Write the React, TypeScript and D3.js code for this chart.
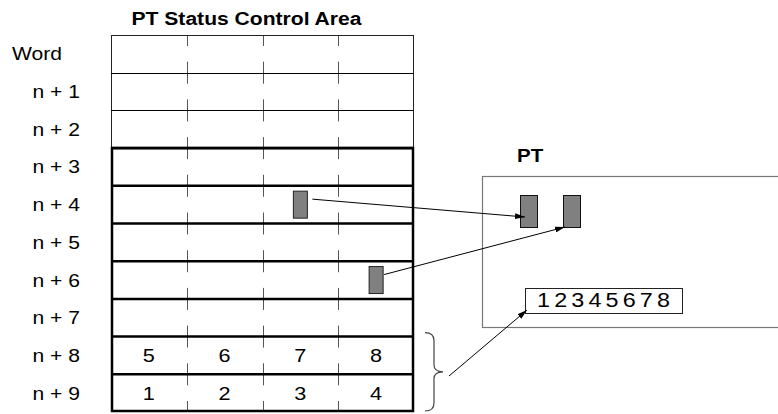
import React from "react";
import * as d3 from "d3";

const rowLabels = ["Word", "n + 1", "n + 2", "n + 3", "n + 4", "n + 5", "n + 6", "n + 7", "n + 8", "n + 9"];
const columns = [0, 1, 2, 3];
const cellNumbers = [
  { row: 8, values: [5, 6, 7, 8] },
  { row: 9, values: [1, 2, 3, 4] },
];
const tableBits = [
  { row: 4, col: 2 },
  { row: 6, col: 3 },
];
const ptDisplayText = "12345678";
const titleText = "PT Status Control Area";
const ptTitle = "PT";

const W = 778;
const H = 414;
const FONT = "'Liberation Sans', Arial, Helvetica, sans-serif";
const SX = 1.14;

const x = d3.scaleBand<number>().domain(columns).range([111, 414]);
const y = d3.scaleBand<number>().domain(d3.range(rowLabels.length)).range([35, 412]);

function T({ x: tx, y: ty, anchor = "start", size = 18.5, bold = false, children, ...rest }: any) {
  return (
    <text
      transform={`translate(${tx},${ty}) scale(${SX},1)`}
      textAnchor={anchor}
      fontSize={size}
      fontWeight={bold ? "bold" : "normal"}
      fontFamily={FONT}
      fill="#000"
      {...rest}
    >
      {children}
    </text>
  );
}

export default function App() {
  const left = x.range()[0];
  const right = x.range()[1];
  const top = y.range()[0];
  const bottom = y.range()[1];
  const bw = x.bandwidth();
  const bh = y.bandwidth();
  const thinBottom = y(3)!;

  const pt = { x: 482, y: 176, w: 400, h: 151 };
  const lampW = 17, lampH = 32;
  const lamps = [
    { x: 520, y: 195 },
    { x: 563, y: 195 },
  ];
  const disp = { x: 525, y: 288, w: 157, h: 25 };

  const bitW = 14, bitH = 27;
  const bitRects = tableBits.map((b) => ({
    x: x(b.col)! + bw / 2 - bitW / 2,
    y: y(b.row)! + bh / 2 - bitH / 2,
  }));

  const arrows = [
    { x1: bitRects[0].x + bitW + 5, y1: bitRects[0].y + 8, x2: lamps[0].x + 5, y2: lamps[0].y + 22 },
    { x1: bitRects[1].x + bitW + 1, y1: bitRects[1].y + 8, x2: lamps[1].x + 2, y2: lamps[1].y + lampH },
    { x1: 449, y1: 376, x2: disp.x + 2, y2: disp.y + 22 },
  ];

  const bx = 434;
  const by0 = y(8)! - 4;
  const by1 = bottom - 1;
  const bmid = (by0 + by1) / 2;
  const brace = `M${bx - 9},${by0} Q${bx},${by0} ${bx},${by0 + 8} L${bx},${bmid - 7} Q${bx},${bmid} ${bx + 9},${bmid} Q${bx},${bmid} ${bx},${bmid + 7} L${bx},${by1 - 8} Q${bx},${by1} ${bx - 9},${by1}`;

  return (
    <svg
      width={W}
      height={H}
      viewBox={`0 0 ${W} ${H}`}
      style={{ position: "absolute", left: 0, top: 0, background: "#fff" }}
    >
      <defs>
        <marker id="ah" viewBox="0 0 10 6" refX="10" refY="3" markerWidth="10" markerHeight="6" markerUnits="userSpaceOnUse" orient="auto">
          <path d="M0,0 L10,3 L0,6 Z" fill="#000" />
        </marker>
      </defs>
      <rect x={0} y={0} width={W} height={H} fill="#fff" />

      <T x={246.5} y={25} anchor="middle" size={18.5} bold>
        {titleText}
      </T>

      {columns.slice(1).map((c) => (
        <line
          key={c}
          x1={Math.round(x(c)!) + 0.5}
          x2={Math.round(x(c)!) + 0.5}
          y1={top}
          y2={bottom}
          stroke="#555"
          strokeWidth={1}
          strokeDasharray="22 15.7"
          strokeDashoffset={11}
        />
      ))}

      <rect x={left + 0.5} y={top + 0.5} width={right - left - 1} height={thinBottom - top} fill="none" stroke="#222" strokeWidth={1} />
      {[1, 2].map((r) => (
        <line key={r} x1={left} x2={right} y1={Math.round(y(r)!) + 0.5} y2={Math.round(y(r)!) + 0.5} stroke="#000" strokeWidth={1} />
      ))}

      {d3.range(3, rowLabels.length).map((r) => (
        <line key={r} x1={left} x2={right} y1={y(r)!} y2={y(r)!} stroke="#000" strokeWidth={2.5} />
      ))}
      <rect x={left + 1} y={thinBottom} width={right - left - 2} height={bottom - thinBottom - 1} fill="none" stroke="#000" strokeWidth={2.5} />

      {rowLabels.map((lab, i) =>
        i === 0 ? (
          <T key={i} x={12} y={y(i)! + bh / 2 + 6.5}>
            {lab}
          </T>
        ) : (
          <T key={i} x={80} y={y(i)! + bh / 2 + 6.5} anchor="end">
            {lab}
          </T>
        )
      )}

      {cellNumbers.map((row) =>
        row.values.map((v, ci) => (
          <T key={`${row.row}-${ci}`} x={x(ci)! + bw / 2} y={y(row.row)! + bh / 2 + 7} anchor="middle" size={19}>
            {v}
          </T>
        ))
      )}

      {bitRects.map((r, i) => (
        <rect key={i} x={r.x} y={r.y} width={bitW} height={bitH} fill="#808080" stroke="#222" strokeWidth={1} />
      ))}

      <T x={517} y={162} size={18} bold>
        {ptTitle}
      </T>
      <rect x={pt.x + 0.5} y={pt.y + 0.5} width={pt.w} height={pt.h} fill="none" stroke="#777" strokeWidth={1.2} />
      {lamps.map((l, i) => (
        <rect key={i} x={l.x + 0.5} y={l.y + 0.5} width={lampW} height={lampH} fill="#808080" stroke="#111" strokeWidth={1} />
      ))}
      <rect x={disp.x + 0.5} y={disp.y + 0.5} width={disp.w} height={disp.h} fill="#fff" stroke="#222" strokeWidth={1} />
      <text
        transform={`translate(537,307) scale(${SX},1)`}
        fontSize={20.5}
        fontFamily={FONT}
        textLength={133 / SX}
        lengthAdjust="spacing"
        fill="#000"
      >
        {ptDisplayText}
      </text>

      {arrows.map((a, i) => (
        <line key={i} x1={a.x1} y1={a.y1} x2={a.x2} y2={a.y2} stroke="#000" strokeWidth={1} markerEnd="url(#ah)" />
      ))}

      <path d={brace} fill="none" stroke="#444" strokeWidth={1.2} />
    </svg>
  );
}
